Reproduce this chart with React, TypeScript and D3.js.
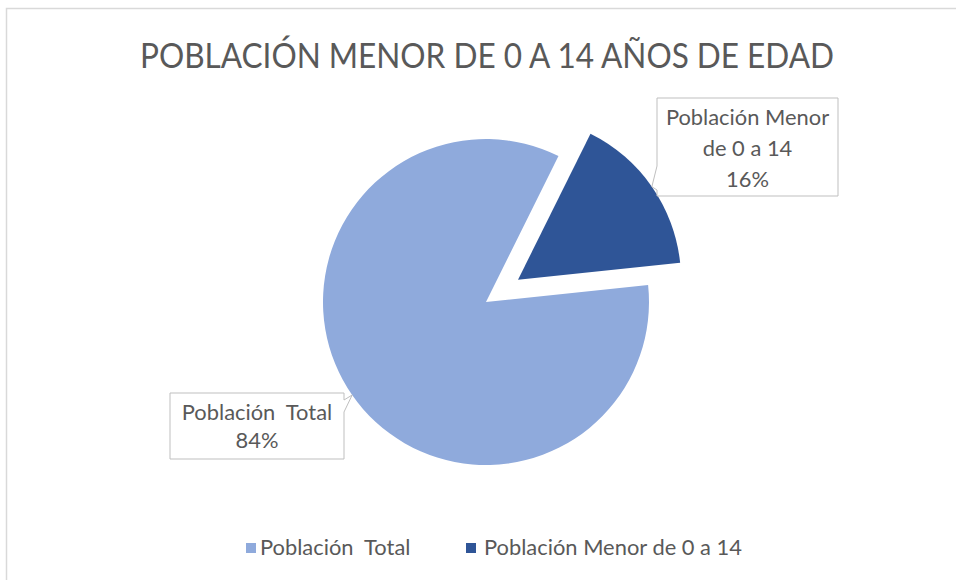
import React, { useLayoutEffect, useRef, useState } from "react";
import * as d3 from "d3";

const title = "POBLACIÓN MENOR DE 0 A 14 AÑOS DE EDAD";
const categories = ["Población  Total", "Población Menor de 0 a 14"];
const values = [84, 16];
const percentLabels = ["84%", "16%"];
const colors = ["#8FAADC", "#2F5597"];

const W = 956;
const H = 580;
const FONT = "Lato, 'Open Sans', sans-serif";
const TEXT = "#595959";

export default function App() {
  const refText = useRef<SVGTextElement>(null);
  const [labelSize, setLabelSize] = useState(20);

  useLayoutEffect(() => {
    if (refText.current) {
      const w = refText.current.getComputedTextLength();
      if (w > 0) setLabelSize((s) => Math.abs(s * 258 / w - s) > 0.05 ? s * 258 / w : s);
    }
  });

  const cx = 486, cy = 302, r = 163, explode = 39;
  const pie = d3.pie<number>().sort(null).startAngle((84 * Math.PI) / 180).endAngle((84 * Math.PI) / 180 + 2 * Math.PI);
  const arcs = pie(values);
  const arcGen = d3.arc<d3.PieArcDatum<number>>().innerRadius(0).outerRadius(r);

  const offsets = arcs.map((a, i) => {
    const mid = (a.startAngle + a.endAngle) / 2;
    const d = i === 1 ? explode : 0;
    return [Math.sin(mid) * d, -Math.cos(mid) * d, mid];
  });

  const tip = (i: number) => {
    const [dx, dy, mid] = offsets[i];
    return [cx + dx + Math.sin(mid) * r, cy + dy - Math.cos(mid) * r];
  };
  const t0 = tip(0);
  const t1 = tip(1);

  const b1 = { x0: 657, y0: 98, x1: 838, y1: 196 };
  const b0 = { x0: 170, y0: 393, x1: 344, y1: 459 };
  const path1 = `M${b1.x0},${b1.y0}H${b1.x1}V${b1.y1}H${b1.x0}V${b1.y1 - 6}L${t1[0]},${t1[1]}L${b1.x0},${b1.y1 - 30}Z`;
  const path0 = `M${b0.x0},${b0.y0}H${b0.x1}V${b0.y0 + 7}L${t0[0]},${t0[1]}L${b0.x1},${b0.y0 + 19}V${b0.y1}H${b0.x0}Z`;

  return (
    <svg width={W} height={H} style={{ position: "absolute", left: 0, top: 0, background: "#fff" }} fontFamily={FONT}>
      <rect x={0} y={0} width={W} height={H} fill="#fff" />
      <rect x={6.5} y={8.5} width={W} height={H} fill="none" stroke="#d9d9d9" strokeWidth={1.5} />
      <text x={140} y={68} fontSize={35} fill={TEXT} textLength={694} lengthAdjust="spacingAndGlyphs">{title}</text>

      {arcs.map((a, i) => (
        <path key={i} d={arcGen(a) || ""} fill={colors[i]}
          transform={`translate(${cx + offsets[i][0]},${cy + offsets[i][1]})`} />
      ))}

      <path d={path1} fill="#fff" stroke="#bfbfbf" strokeWidth={1} />
      <text textAnchor="middle" fontSize={labelSize} fill={TEXT}>
        <tspan x={(b1.x0 + b1.x1) / 2} y={125}>Población Menor</tspan>
        <tspan x={(b1.x0 + b1.x1) / 2} y={156}>de 0 a 14</tspan>
        <tspan x={(b1.x0 + b1.x1) / 2} y={187}>{percentLabels[1]}</tspan>
      </text>

      <path d={path0} fill="#fff" stroke="#bfbfbf" strokeWidth={1} />
      <text textAnchor="middle" fontSize={labelSize} fill={TEXT} style={{ whiteSpace: "pre" }}>
        <tspan x={257} y={420}>{categories[0]}</tspan>
        <tspan x={257} y={448}>{percentLabels[0]}</tspan>
      </text>

      <rect x={246} y={543} width={10} height={10} fill={colors[0]} />
      <text x={260} y={555} fontSize={labelSize} fill={TEXT} style={{ whiteSpace: "pre" }}>{categories[0]}</text>
      <rect x={466} y={543} width={10} height={10} fill={colors[1]} />
      <text ref={refText} x={484} y={555} fontSize={labelSize} fill={TEXT}>{categories[1]}</text>
    </svg>
  );
}
